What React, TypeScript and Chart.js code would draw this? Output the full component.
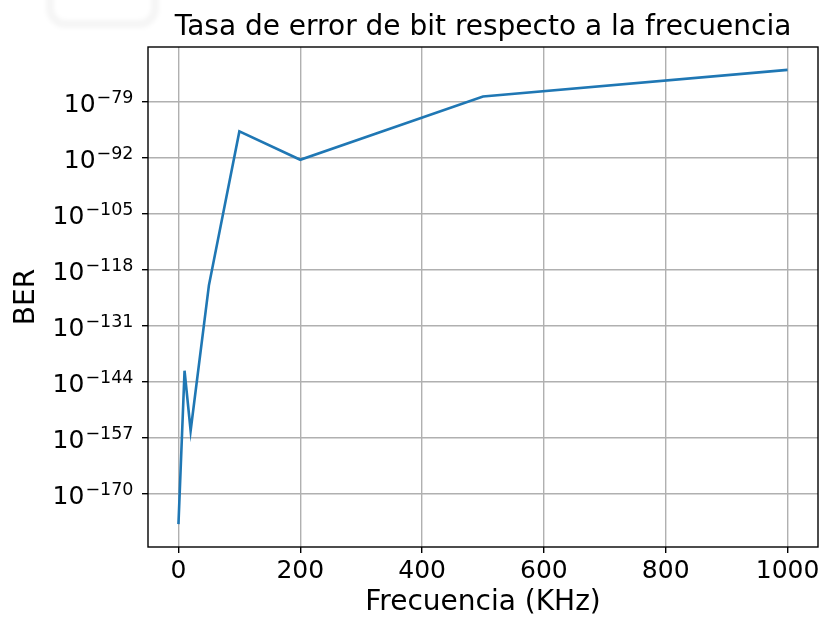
import React, { useEffect, useRef } from 'react';
import { Chart, registerables } from 'chart.js';

Chart.register(...registerables);

const freqKHz = [0, 10, 20, 50, 100, 200, 500, 1000];
const ber = [1e-177, 4e-142, 5e-156, 2.5e-122, 1.3e-86, 3.5e-93, 1.6e-78, 2.5e-72];
const xTicks = [0, 200, 400, 600, 800, 1000];
const yTickExponents = [-170, -157, -144, -131, -118, -105, -92, -79];
const xMin = -50;
const xMax = 1050;
const yMin = 5e-183;
const yMax = 5e-67;
const titleText = 'Tasa de error de bit respecto a la frecuencia';
const xLabel = 'Frecuencia (KHz)';
const yLabel = 'BER';

const FONT = '"DejaVu Sans", sans-serif';

const decor = {
  id: 'decor',
  beforeDraw(chart: any) {
    const ctx = chart.ctx;
    ctx.save();
    ctx.fillStyle = '#ffffff';
    ctx.fillRect(0, 0, chart.width, chart.height);
    ctx.filter = 'blur(2px)';
    ctx.strokeStyle = 'rgba(0,0,0,0.04)';
    ctx.lineWidth = 8;
    ctx.beginPath();
    ctx.roundRect(50, -40, 105, 64, 16);
    ctx.stroke();
    ctx.restore();
  },
  afterDraw(chart: any) {
    const ctx = chart.ctx;
    const a = chart.chartArea;
    ctx.save();
    ctx.strokeStyle = '#000';
    ctx.lineWidth = 1.4;
    ctx.strokeRect(a.left, a.top, a.right - a.left, a.bottom - a.top);
    ctx.fillStyle = '#000';
    ctx.font = `28px ${FONT}`;
    ctx.textAlign = 'center';
    ctx.textBaseline = 'alphabetic';
    ctx.fillText(titleText, (a.left + a.right) / 2, 35);
    const ys = chart.scales.y;
    ys.ticks.forEach((t: any) => {
      const py = ys.getPixelForValue(t.value);
      const exp = Math.round(Math.log10(t.value));
      const sup = (exp < 0 ? '\u2212' : '') + Math.abs(exp);
      const right = a.left - 14.5;
      ctx.textAlign = 'right';
      ctx.textBaseline = 'alphabetic';
      ctx.font = `17.5px ${FONT}`;
      ctx.fillText(sup, right, py + 1);
      const w = ctx.measureText(sup).width;
      ctx.font = `25px ${FONT}`;
      ctx.fillText('10', right - w - 1, py + 10.4);
    });
    ctx.restore();
  },
};

export default function App() {
  const ref = useRef<HTMLCanvasElement | null>(null);
  useEffect(() => {
    if (!ref.current) return;
    const chart = new Chart(ref.current, {
      type: 'line',
      data: {
        datasets: [
          {
            data: freqKHz.map((x, i) => ({ x, y: ber[i] })),
            borderColor: '#1f77b4',
            borderWidth: 2.6,
            pointRadius: 0,
            tension: 0,
            fill: false,
          },
        ],
      },
      options: {
        responsive: false,
        animation: false,
        devicePixelRatio: 1,
        layout: { padding: { top: 47, right: 5, bottom: 0, left: 0 } },
        plugins: { legend: { display: false }, tooltip: { enabled: false }, title: { display: false } },
        scales: {
          x: {
            type: 'linear',
            min: xMin,
            max: xMax,
            afterBuildTicks: (s: any) => {
              s.ticks = xTicks.map((v) => ({ value: v }));
            },
            afterFit: (s: any) => {
              s.height = 71;
            },
            border: { display: false },
            grid: { color: '#b0b0b0', lineWidth: 1.4, tickColor: '#000', tickLength: 6, tickWidth: 1.4 },
            ticks: {
              color: '#000',
              font: { family: FONT, size: 25 },
              padding: 3,
              maxRotation: 0,
              autoSkip: false,
              callback: (v: any) => String(v),
            },
            title: { display: true, text: xLabel, color: '#000', font: { family: FONT, size: 28, lineHeight: 1 }, padding: { top: 0, bottom: 1 } },
          },
          y: {
            type: 'logarithmic',
            min: yMin,
            max: yMax,
            afterBuildTicks: (s: any) => {
              s.ticks = yTickExponents.map((e) => ({ value: Math.pow(10, e) }));
            },
            afterFit: (s: any) => {
              s.width = 148;
            },
            border: { display: false },
            grid: { color: '#b0b0b0', lineWidth: 1.4, tickColor: '#000', tickLength: 6, tickWidth: 1.4 },
            ticks: { display: false },
            title: { display: true, text: yLabel, color: '#000', font: { family: FONT, size: 28, lineHeight: 1 }, padding: { top: 12.5, bottom: 0 } },
          },
        },
      },
      plugins: [decor],
    } as any);
    return () => chart.destroy();
  }, []);
  return (
    <div style={{ position: 'absolute', left: 0, top: 0, width: 823, height: 618, background: '#fff' }}>
      <canvas ref={ref} width={823} height={618} style={{ width: 823, height: 618, display: 'block' }} />
    </div>
  );
}
